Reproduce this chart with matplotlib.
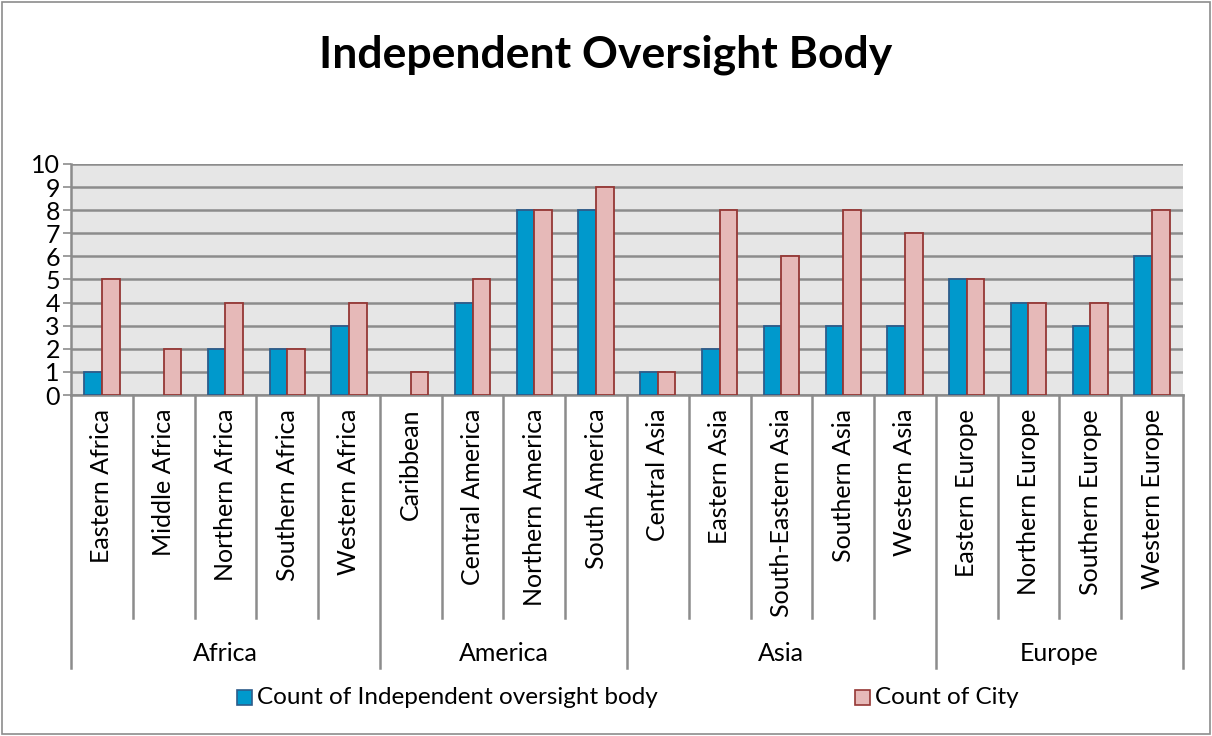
import matplotlib.pyplot as plt
from matplotlib.patches import Rectangle
import matplotlib.transforms as mtransforms
import numpy as np

plt.rcParams['font.family'] = ['Lato', 'DejaVu Sans']

# data
groups = ['Africa', 'America', 'Asia', 'Europe']
group_sizes = [5, 4, 5, 4]
regions = ['Eastern Africa', 'Middle Africa', 'Northern Africa', 'Southern Africa', 'Western Africa',
           'Caribbean', 'Central America', 'Northern America', 'South America',
           'Central Asia', 'Eastern Asia', 'South-Eastern Asia', 'Southern Asia', 'Western Asia',
           'Eastern Europe', 'Northern Europe', 'Southern Europe', 'Western Europe']
oversight = [1, 0, 2, 2, 3, 0, 4, 8, 8, 1, 2, 3, 3, 3, 5, 4, 3, 6]
city = [5, 2, 4, 2, 4, 1, 5, 8, 9, 1, 8, 6, 8, 7, 5, 4, 4, 8]

blue, blue_edge = '#0099CC', '#2E5C8A'
pink, pink_edge = '#E6B9B8', '#953735'
grid_col = '#8C8C8C'

fig = plt.figure(figsize=(12.12, 7.36), dpi=100)
ax = fig.add_axes([0.0586, 0.4633, 0.9174, 0.3139])
ax.set_facecolor('#E6E6E6')

x = np.arange(len(regions))
w = 0.285
# zero-height bars get no outline, like the original
ax.bar(x - w / 2, oversight, w, color=blue,
       edgecolor=[blue_edge if v else 'none' for v in oversight], linewidth=1.3, zorder=3)
ax.bar(x + w / 2, city, w, color=pink,
       edgecolor=[pink_edge if v else 'none' for v in city], linewidth=1.3, zorder=3)

ax.set_xlim(-0.5, len(regions) - 0.5)
ax.set_ylim(0, 10)
ax.set_yticks(range(0, 11))
ax.tick_params(axis='y', labelsize=18, length=6, width=1.2, color=grid_col, pad=2)
ax.yaxis.grid(True, color=grid_col, linewidth=1.8, zorder=1)
ax.set_xticks([])
for s in ['top', 'right']:
    ax.spines[s].set_visible(False)
for s in ['left', 'bottom']:
    ax.spines[s].set_color(grid_col)
    ax.spines[s].set_linewidth(1.8)

# category labels and separators below axis
trans = mtransforms.blended_transform_factory(ax.transData, ax.transAxes)
for i, name in enumerate(regions):
    ax.text(i, -0.06, name, rotation=90, ha='center', va='top', fontsize=18, transform=trans)

bounds = np.cumsum([0] + group_sizes) - 0.5
for b in np.arange(-0.5, len(regions)):
    bottom = -1.182 if b in bounds else -0.965
    ax.plot([b, b], [0, bottom], color=grid_col, linewidth=1.8, transform=trans, clip_on=False)
for g, lo, hi in zip(groups, bounds[:-1], bounds[1:]):
    ax.text((lo + hi) / 2, -1.117, g, ha='center', va='center', fontsize=18, transform=trans)

fig.text(0.5, 0.925, 'Independent Oversight Body', ha='center', va='center',
         fontsize=32, fontweight='bold')

# legend
ly = 1 - 697 / 736
for xpos, col, ec, lab in [(237, blue, blue_edge, 'Count of Independent oversight body'),
                           (855, pink, pink_edge, 'Count of City')]:
    fig.patches.append(Rectangle((xpos / 1212, ly - 8 / 736), 15 / 1212, 15 / 736,
                                 facecolor=col, edgecolor=ec, linewidth=1.2,
                                 transform=fig.transFigure))
    fig.text((xpos + 20) / 1212, ly, lab, ha='left', va='center', fontsize=17.5)

fig.patches.append(Rectangle((0.002, 0.003), 0.996, 0.994, fill=False, edgecolor='#8C8C8C',
                             linewidth=1.2, transform=fig.transFigure))

fig.savefig('out.png', dpi=100)
